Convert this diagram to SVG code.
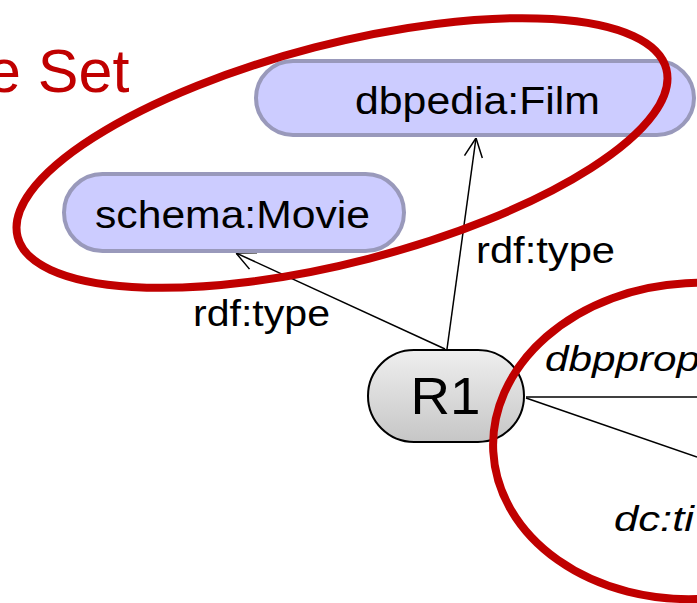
<svg xmlns="http://www.w3.org/2000/svg" width="697" height="603" viewBox="0 0 697 603">
  <defs>
    <linearGradient id="gR1" x1="0" y1="0" x2="0" y2="1">
      <stop offset="0" stop-color="#EFEFEF"/>
      <stop offset="1" stop-color="#C6C6C6"/>
    </linearGradient>
    <marker id="arr" viewBox="0 0 20 20" refX="20" refY="10" markerWidth="20" markerHeight="20" markerUnits="userSpaceOnUse" orient="auto">
      <path d="M1,1 L20,10 L1,19" fill="none" stroke="#000" stroke-width="1.5"/>
    </marker>
    <style>
      .cls { fill: #CCCCFF; stroke: #9999BB; stroke-width: 4; }
      .lbl { font-family: "Liberation Sans", Arial, sans-serif; fill: #000; }
      .it { font-style: italic; }
      .edge { stroke: #000; stroke-width: 1.5; fill: none; }
      .ring { fill: none; stroke: #C00000; stroke-width: 8; }
    </style>
  </defs>
  <rect width="697" height="603" fill="#FFFFFF"/>

  <text class="lbl" x="-13" y="92" font-size="61" style="fill:#C00000">e Set</text>

  <g id="connectors">
    <line class="edge" x1="447" y1="349" x2="476" y2="138" marker-end="url(#arr)"/>
    <line class="edge" x1="445" y1="349" x2="236" y2="253" marker-end="url(#arr)"/>
    <line class="edge" x1="526" y1="397" x2="697" y2="397"/>
    <line class="edge" x1="526" y1="398" x2="697" y2="457"/>
    <text class="lbl" x="476" y="263" font-size="36" textLength="139" lengthAdjust="spacingAndGlyphs">rdf:type</text>
    <text class="lbl" x="193" y="326" font-size="36" textLength="137" lengthAdjust="spacingAndGlyphs">rdf:type</text>
    <text class="lbl it" x="545" y="371" font-size="35" textLength="155" lengthAdjust="spacingAndGlyphs">dbpprop</text>
    <text class="lbl it" x="614" y="531" font-size="35" textLength="80" lengthAdjust="spacingAndGlyphs">dc:ti</text>
  </g>

  <g id="node-film">
    <rect class="cls" x="256" y="61" width="438" height="74" rx="37" ry="37"/>
    <text class="lbl" x="355" y="114" font-size="38" textLength="245" lengthAdjust="spacingAndGlyphs">dbpedia:Film</text>
  </g>

  <g id="node-movie">
    <rect class="cls" x="64" y="174" width="340" height="77" rx="38.5" ry="38.5"/>
    <text class="lbl" x="95" y="228" font-size="39" textLength="275" lengthAdjust="spacingAndGlyphs">schema:Movie</text>
  </g>

  <g id="node-r1">
    <rect x="368" y="350" width="156" height="92" rx="46" ry="46" fill="url(#gR1)" stroke="#000" stroke-width="2"/>
    <text class="lbl" x="410.5" y="414" font-size="52" textLength="70" lengthAdjust="spacingAndGlyphs">R1</text>
  </g>

  <ellipse class="ring" cx="342" cy="153" rx="335" ry="109" transform="rotate(-14.5 342 153)"/>
  <ellipse class="ring" cx="694" cy="441" rx="201" ry="158" transform="rotate(-3 694 441)"/>
</svg>
